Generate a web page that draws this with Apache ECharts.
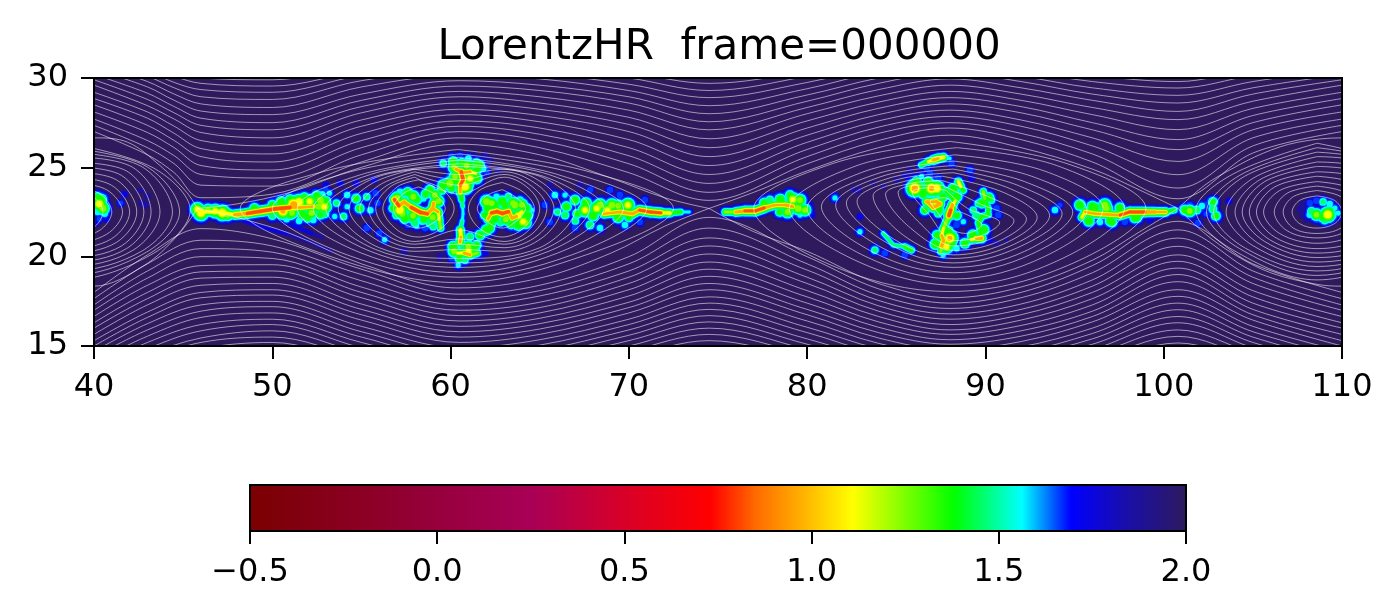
<!DOCTYPE html>
<html>
<head>
<meta charset="UTF-8">
<title>LorentzHR</title>
<style>
  html, body { margin: 0; background: #fff; }
  #main { width: 1400px; height: 615px; }
</style>
<script src="https://cdn.jsdelivr.net/npm/echarts@6/dist/echarts.min.js"></script>
</head>
<body>
<div id="main"></div>
<script>
var title = 'LorentzHR  frame=000000';

// colour bar
var cmapValues = [-0.5, 0, 0.25, 0.5, 0.73, 0.85, 1.11, 1.38, 1.56, 1.69, 1.84, 2];
var cmapColors = ['#7a0000', '#96003c', '#a80056', '#d80028', '#ff0000', '#ff6a00', '#ffff00', '#00ff00', '#00ffff', '#0000ff', '#1a0ea8', '#2e1a5c'];
var fieldLevels = [1.86, 1.74, 1.66, 1.56, 1.46, 1.36, 1.24, 1.11, 0.96, 0.82];

// hot spots of the field, [x, y, value]
var edgeBlob = [[40.2,23.3,1.3],[40.4,23.2,1.25],[40.3,22.95,1.05],[40.5,22.7,1.15],[40.2,22.5,1.5],[40.6,22.4,1.5],[40.3,22.1,1.65],[40.7,22.1,1.7],[40.1,21.9,1.7],[41.7,23.5,1.7],[41.5,23,1.65],[42.7,23,1.75],[42.9,22.9,1.75],[42.6,23.7,1.8],[43,23.4,1.8]];
var leftStreak = [[45.8,22.65,1.1],[46,22.45,1],[46.4,22.6,1.2],[46.8,22.55,1.1],[47.2,22.45,1],[47.5,22.35,1.2],[50.6,22.55,0.95],[51.2,22.9,0.85],[51.1,22.45,1.2],[51.7,22.35,1.25],[52.2,22.45,1.2],[52.1,23.1,1.1],[51.5,23.05,1],[52.6,22.8,1.2],[52.9,22.8,1.1],[52.7,23.15,1.15],[53,23.1,1.3],[52.7,22.35,1.35],[52.3,22.05,1.5],[51.5,22,1.5],[50.8,22.1,1.5],[52.95,22.4,1.4],[53,22.8,1.2],[50,22.9,1.35],[49,22.7,1.3],[50.5,23.05,1.25],[51,23.2,1.3],[51.8,23.3,1.3],[52.5,23.4,1.3],[51,22.35,1.3],[50,22.3,1.4],[52,22.2,1.3]];
var upperWisp = [[51.8,23.4,1.7],[52.4,23.6,1.6],[53,23.8,1.65],[52.8,23.5,1.5]];
var leftFlecks = [[53.2,23.55,1.55],[53.6,23,1.45],[54.2,23.45,1.5],[54.2,22.8,1.55],[54.7,23.25,1.35],[54.9,22.7,1.35],[55.3,23.35,1.45],[55.5,22.6,1.5],[54,22.25,1.45],[53.5,22.25,1.55],[54.7,24.1,1.7],[55.7,24.3,1.7],[55.8,23.55,1.6],[53,24,1.7],[53.8,24.1,1.7],[55.9,23,1.6],[55.3,21.6,1.6],[56,21.3,1.6],[56.3,20.95,1.55],[57.4,20.3,1.75]];
var leftLobe = [[58.84,23.73,1.3],[59.12,23.45,1.2],[57.91,23.36,1.2],[58.47,23.26,1.5],[57.44,23.55,1.4],[57.16,23.64,1.5],[56.79,22.71,1.35],[56.97,22.33,1.4],[57.44,22.14,1.3],[57.82,22.14,1.35],[58.38,21.96,1.5],[58.84,21.87,1.4],[59.03,21.68,1.45],[58.1,21.72,1.55],[58.56,21.59,1.6],[57.63,21.77,1.6],[59.59,24.01,1.25],[59.96,24.1,1.15],[59.5,23.73,1.35],[60.06,23.82,1.35],[57.16,22.61,1],[57,23.3,1.2],[57.6,23.6,1.3],[58.1,23.2,1.3],[58.6,23.5,1.35],[57.3,22.4,1.2],[57.9,22.3,1.2],[58.5,22.1,1.3],[59,22.2,1.2],[58,21.9,1.4],[59.3,23.1,1.2]];
var topSheet = [[60.15,25.32,1.3],[60.62,25.22,1.3],[61.09,25.13,1.3],[61.46,25.22,1.35],[61.83,24.94,1.5],[62.02,24.76,1.6],[61.65,25.13,1.35],[60.25,24.48,1.2],[61.09,24.38,1.1],[61.46,24.38,1.25],[60.81,23.92,1],[59.59,25.22,1.45],[62.68,24.85,1.75],[61.93,25.69,1.75],[62.21,25.41,1.75],[61.27,25.69,1.8],[60.06,25.6,1.6],[60.53,25.63,1.6],[61,25.5,1.5],[60.2,25,1.2],[60.9,25.1,1.2],[61.5,24.9,1.3],[60.3,24.2,1.3],[61,24.1,1.25]];
var bottomSheet = [[60.15,20.56,1.25],[61,20.56,1.2],[61.46,20.65,1.35],[60.06,20.28,1.45],[60.43,19.53,1.55],[60.06,19.91,1.6],[60.81,19.81,1.45],[61.93,20.19,1.7],[59.4,20,1.75],[61.65,19.9,1.75],[60.71,20.47,1.4],[61.09,21.12,1.4],[61.65,21.21,1.3],[62.02,21.49,1.25],[62.2,21.6,1.3],[60.2,20.3,1.2],[61,20.3,1.1],[61.3,20.5,1.25],[60.5,19.9,1.35]];
var rightLobe = [[62.02,23.08,1.15],[62.11,22.71,1.25],[64.07,21.96,1.1],[63.8,21.77,1.25],[62.49,22.89,1.25],[63.05,22.89,1.3],[63.61,22.89,1.15],[64.26,22.71,1.3],[64.54,22.61,1.55],[62.58,23.36,1.5],[63.24,23.36,1.45],[63.89,23.17,1.45],[62.3,21.87,1.35],[61.93,22.33,1.35],[62.3,23,1.2],[62.9,23.1,1.25],[63.5,23,1.2],[64,22.9,1.2],[62.5,22.1,1.3],[63.1,22.1,1.2],[63.8,22.3,1.1],[64.3,22.3,1.25],[62.8,21.9,1.45],[63.4,21.8,1.35],[64.2,21.9,1.2]];
var rightStreak = [[65.29,22.89,1.6],[65.85,23.45,1.5],[66.42,22.33,1.4],[66.98,23.17,1.3],[67.54,22.61,1.1],[67.82,21.77,1.4],[68.38,22.89,1.15],[69.05,22.89,1.15],[69.95,22.89,1.1],[66.42,23.45,1.55],[67.82,23.73,1.6],[68.94,23.73,1.6],[65.57,21.94,1.6],[66.98,21.61,1.6],[68.38,21.61,1.5],[69.78,21.77,1.5],[70.62,21.94,1.6],[65.57,24.01,1.75],[67.26,24.01,1.75],[69.5,23.45,1.6],[70.9,23.17,1.6],[66.5,22.8,1.3],[67.1,22.4,1.35],[67.6,23,1.25],[68,22.3,1.25],[68.2,22.7,1.1],[68.8,22.6,1.1],[69.4,22.2,1.25],[69.4,22.85,1.2],[70,22.2,1.35],[66,22.5,1.45],[67,22,1.45]];
var midStreak = [[79.6,23.17,1.2],[79.04,23.45,1.35],[79.88,22.61,1.2],[78.47,22.5,1.35],[77.91,23.17,1.4],[80.16,22.89,1.7],[80.27,22.33,1.7],[79.6,22.33,1.55],[81.56,23.29,1.55],[82.6,23.73,1.8],[77.6,23,1.3],[78.5,23.2,1.25],[79.2,23.2,1.1],[78.9,22.5,1.2],[79.5,22.7,1.15]];
var islandTop = [[88.1,25.22,1.6],[86.7,24.94,1.6],[85.76,24.85,1.75],[85.02,24.29,1.8],[85.76,24.1,1.75],[86.89,24.66,1.6],[87.35,24.38,1.6],[86.42,24.48,1.55],[86.04,23.82,0.9],[86.14,24.2,1.3],[86.42,24.01,1.4],[86.79,24.2,1.3],[86.98,23.82,0.95],[87.26,23.82,1],[86.61,23.64,1.3],[89.13,24.85,1.6],[89.22,24.38,1.7]];
var islandCore = [[87.63,23.36,1.3],[88.38,23.36,1.25],[87.35,22.43,1.4],[88,21.03,0.95],[87.82,20.56,1.1],[87.63,20.09,1.55],[88.1,20.75,1.3],[86.5,23.5,1.3],[87.2,23.6,1.35],[88.2,23.8,1.25],[87.4,22.6,1.3],[86.6,22.6,1.35],[88.4,22.3,1.35],[87.3,21.2,1.3],[87.9,21.4,1.25],[87.2,20.7,1.25]];
var islandRight = [[90.34,23.17,1.45],[89.6,22.98,1.45],[89.32,22.61,1.45],[88.85,20.75,1.3],[90.62,22.71,1.6],[90.72,22.33,1.6],[88.76,21.96,1.55],[88.38,21.77,1.6],[90.25,20.93,1.7],[90.62,20.75,1.8],[91.19,20.93,1.85],[89.8,23,1.3],[90.2,23.3,1.3],[89.5,22.3,1.4],[89.9,21.5,1.25],[89.3,21.2,1.25]];
var islandFlecks = [[83.8,20.37,1.45],[85.48,20.09,1.6],[84.36,20.19,1.6],[82.96,22.24,1.7],[82.87,23.73,1.75],[82.96,21.4,1.55],[83.71,24.1,1.85],[84.27,23.92,1.85],[88.38,20.47,1.5]];
var eastStreak = [[93.9,22.61,1.5],[94.18,22.89,1.65],[95.3,22.89,1.25],[96.14,22.73,1.25],[96.7,22.89,1.15],[97.1,21.94,1.3],[97.54,22.73,1.3],[98.38,22.17,1.3],[101.19,22.61,1.3],[96.42,21.94,1.5],[97.82,21.94,1.6],[99.23,22.05,1.7],[101.86,22.61,1.4],[102.31,22.89,1.6],[101.47,22.89,1.6],[96,22.8,1.25],[96.8,22.7,1.2],[97,22,1.3],[95.8,22,1.25],[98.5,22.2,1.3]];
var eastFlecks = [[102.14,22.83,1.5],[101.92,21.89,1.6],[102.76,23.06,1.35],[102.76,22.67,1.4],[102.93,22.28,1.35],[103.66,23.12,1.7],[102.37,22.39,1.65],[101.46,22.56,1.2]];
var farBlob = [[107.63,22.63,1.8],[107.82,22.91,1.75],[108.19,23,1.6],[108.56,23.13,1.6],[108.94,23.06,1.45],[109.31,22.95,1.5],[109.6,22.72,1.55],[109.78,22.44,1.55],[109.54,22.26,1.55],[108.29,22.54,1.4],[108.57,22.35,1.2],[108.94,22.2,1.3],[109.2,22.35,1],[109.31,22.54,1.3],[108.19,22.35,1.5],[107.82,22.35,1.75],[108,22.07,1.8],[108.57,22.07,1.6],[109.03,22.02,1.45],[109.88,22.16,1.7],[109.97,22.63,1.7]];
var field = [].concat(edgeBlob, leftStreak, upperWisp, leftFlecks, leftLobe, topSheet, bottomSheet, rightLobe, rightStreak, midStreak, islandTop, islandCore, islandRight, islandFlecks, eastStreak, eastFlecks, farBlob);

// ridges of the field, runs of [x, y, value]
var ridges = [
  [[46,22.5,1.05],[47,22.5,1.05],[47.9,22.35,0.85],[48.6,22.42,0.75],[49.4,22.55,0.72],[50.2,22.68,0.72],[51,22.75,0.72],[51.6,22.75,0.95],[52.3,22.8,0.95],[52.9,22.9,1.15]],
  [[48.4,22,1.72],[49.6,21.6,1.7],[50.8,21.3,1.72],[51.9,20.9,1.75],[53.3,20.3,1.8]],
  [[51,21.8,1.65],[52.2,21.3,1.72],[52.8,21.1,1.78]],
  [[56.85,23.2,0.75],[57.1,22.85,0.72],[57.4,23.05,0.85],[57.8,22.75,0.72],[58.3,22.48,0.72],[58.7,22.4,0.75],[59,22.7,0.85],[59.05,23,0.9]],
  [[59,22.7,0.9],[59.3,22.5,0.95],[59.37,22.05,1.1],[59.44,21.6,1.2]],
  [[60.3,24.9,0.9],[60.6,24.75,0.72],[60.7,24.3,0.72],[60.55,24,0.78],[60.55,23.6,0.95],[60.62,23.2,1.25],[60.68,22.8,1.45],[60.7,22.4,1.55],[60.65,22,1.45],[60.55,21.5,1],[60.58,21.1,0.8],[60.53,20.8,0.95]],
  [[60.7,24.7,0.72],[61.1,24.75,0.9],[61.4,24.65,1.1]],
  [[60.4,20.2,1.1],[60.75,20.2,0.95],[61.1,20.1,0.85],[61.5,20.2,1.2]],
  [[62.1,22.1,0.95],[62.3,22.45,0.72],[62.6,22.52,0.72],[62.9,22.42,0.72],[63.25,22.52,0.75],[63.45,22.15,0.9],[63.7,22.25,0.78],[64,22.5,1]],
  [[68.6,22.4,0.95],[69.5,22.5,0.85],[70.2,22.4,0.9],[70.6,22.6,0.8],[71.2,22.5,0.75],[71.8,22.45,0.8],[72.3,22.45,1],[72.9,22.5,1.3],[73.4,22.5,1.55]],
  [[75.4,22.5,1.2],[76,22.5,0.9],[76.5,22.56,0.8],[77.1,22.56,0.8],[77.6,22.73,0.72],[78.2,22.89,0.95],[78.8,22.89,0.9],[79.2,22.8,0.75]],
  [[85.4,24.55,1.72],[86.1,24.3,1.6],[87,24.2,1.45],[87.8,23.7,1.3],[88,23.45,1.25],[88.3,23.1,1.1]],
  [[86.4,25.13,1.35],[86.8,25.32,1.1],[87.07,25.41,0.9],[87.35,25.5,0.75],[87.65,25.56,1],[88,25.5,1.5]],
  [[86.7,23.08,0.95],[87.26,23.08,0.72],[87.45,22.95,0.85],[87.07,22.75,0.85],[86.7,23.08,0.95]],
  [[88.3,23.1,1.1],[88.15,22.9,0.85],[88.05,22.6,0.72],[87.95,22.3,0.72],[87.8,21.95,1.15],[87.65,21.6,1.1],[87.55,21.2,0.95],[87.65,20.9,0.75],[87.55,20.6,0.85],[87.5,20.3,1.2]],
  [[88.48,24.2,1.1],[88.62,23.92,0.85],[88.76,23.7,1.25]],
  [[89.2,20.95,1.1],[89.5,21.03,0.85],[89.78,21.03,0.72],[89.7,21.5,1.3],[89.6,21.9,1.3],[89.8,22.25,1.3],[90.16,22.35,1.2],[90.16,22.7,1.35],[89.97,23.27,1.15],[89.88,23.64,1.2]],
  [[84.27,21.3,1.4],[84.83,20.65,1.45],[85.48,20.56,1.3],[85.86,20.37,1.25]],
  [[95.4,22.2,1.1],[95.6,22.5,0.95],[96.15,22.4,0.9],[97,22.35,0.95],[97.55,22.33,0.8],[98.1,22.5,0.8],[98.95,22.5,0.75],[99.5,22.5,0.85],[100.1,22.5,0.95],[100.6,22.6,1.35]]
];

// open field lines: the y of each line at every x of the knots
var upperKnots = [40, 43, 44.5, 46, 50, 55, 60.5, 65, 70, 74.5, 80, 84, 88, 92, 96, 100.8, 105, 110];
var upperColumns = [
  [27,27.35,27.7,28.1,28.5,28.85,29.2,29.6,29.9,30.2,30.5,30.8,31.1,31.4,31.7,32],
  [25.7,26.1,26.5,26.95,27.35,27.75,28.1,28.45,28.8,29.15,29.5,29.8,30.1,30.4,30.7,31],
  [24.7,25.2,25.65,26.1,26.5,26.9,27.3,27.7,28.05,28.4,28.75,29.1,29.45,29.75,30.1,30.4],
  [23.3,24,24.6,25.1,25.6,26.05,26.5,26.95,27.35,27.75,28.15,28.55,28.95,29.35,29.7,30],
  [23.5,23.95,24.4,24.85,25.3,25.75,26.2,26.65,27.1,27.5,27.95,28.35,28.8,29.2,29.55,29.9],
  [25.3,25.7,26.1,26.5,26.9,27.3,27.65,28.05,28.4,28.75,29.1,29.5,29.85,30.15,30.4,30.7],
  [26.65,27,27.3,27.6,27.95,28.25,28.6,28.95,29.25,29.55,29.85,30.15,30.45,30.75,31,31.3],
  [26.1,26.5,26.85,27.2,27.55,27.9,28.25,28.6,28.95,29.3,29.6,29.95,30.25,30.55,30.85,31.1],
  [24.7,25.2,25.65,26.1,26.55,27,27.4,27.8,28.2,28.6,28.95,29.3,29.65,30,30.3,30.6],
  [23.15,23.6,24.1,24.6,25.1,25.6,26.1,26.6,27.1,27.55,28,28.45,28.9,29.3,29.7,30.05],
  [25.2,25.6,26,26.4,26.8,27.2,27.6,28,28.35,28.7,29.05,29.4,29.75,30.1,30.4,30.7],
  [26.5,26.9,27.25,27.6,27.95,28.3,28.65,29,29.35,29.7,30,30.35,30.65,31,31.3,31.6],
  [27.2,27.5,27.85,28.2,28.55,28.9,29.25,29.6,29.95,30.3,30.6,30.9,31.2,31.5,31.8,32.1],
  [26.55,26.9,27.3,27.65,28.05,28.4,28.75,29.1,29.45,29.8,30.1,30.4,30.7,31,31.3,31.6],
  [25.3,25.75,26.2,26.65,27.1,27.5,27.95,28.35,28.75,29.1,29.45,29.8,30.15,30.45,30.75,31.05],
  [23.24,23.84,24.59,25.33,25.99,26.55,27.11,27.67,28.13,28.6,29.03,29.44,29.8,30.2,30.5,30.8],
  [25.8,26.2,26.65,27.1,27.5,27.9,28.3,28.7,29.1,29.45,29.8,30.15,30.5,30.8,31.1,31.4],
  [27,27.35,27.7,28.1,28.5,28.85,29.2,29.6,29.9,30.2,30.5,30.8,31.1,31.4,31.7,32]
];
var lowerKnots = [40, 43, 46, 50, 55, 60.5, 65, 70, 74.5, 80, 84, 88, 92, 96, 100.8, 105, 110];
var lowerColumns = [
  [18,17.65,17.3,17,16.65,16.3,16,15.65,15.3,15,14.7,14.4,14.1,13.8,13.5,13.2,12.9,12.6,12.3],
  [20.1,19.6,19.2,18.8,18.4,18,17.65,17.3,16.9,16.6,16.25,15.9,15.55,15.2,14.85,14.5,14.2,13.9,13.6],
  [21.57,20.92,20.45,20,19.5,19.15,18.8,18.4,18,17.7,17.3,16.95,16.6,16.2,15.85,15.45,15.2,14.85,14.5],
  [21,20.6,20.25,19.9,19.55,19.2,18.85,18.5,18.15,17.85,17.5,17.2,16.85,16.5,16.2,15.85,15.5,15.2,14.85],
  [19.3,19,18.65,18.3,18,17.7,17.35,17.05,16.75,16.45,16.1,15.8,15.5,15.2,14.9,14.6,14.3,14,13.7],
  [17.9,17.6,17.3,17,16.7,16.4,16.1,15.8,15.5,15.2,14.9,14.6,14.3,14,13.7,13.4,13.1,12.8,12.5],
  [18.4,18.1,17.8,17.45,17.15,16.85,16.55,16.25,15.95,15.65,15.35,15.05,14.75,14.45,14.15,13.85,13.55,13.25,12.95],
  [20,19.6,19.2,18.85,18.5,18.15,17.8,17.45,17.15,16.85,16.5,16.2,15.9,15.6,15.3,15,14.7,14.4,14.1],
  [22.2,21.6,21.05,20.6,20.15,19.7,19.3,18.9,18.5,18.15,17.75,17.4,17.05,16.7,16.35,16,15.65,15.3,14.95],
  [20,19.6,19.25,18.85,18.5,18.1,17.75,17.4,17.05,16.75,16.4,16.05,15.75,15.4,15.1,14.8,14.5,14.2,13.9],
  [18.2,17.85,17.55,17.25,16.95,16.65,16.35,16.05,15.75,15.45,15.15,14.85,14.55,14.25,13.95,13.7,13.4,13.1,12.8],
  [17.4,17.1,16.8,16.5,16.2,15.9,15.65,15.35,15.1,14.8,14.5,14.25,14,13.7,13.4,13.15,12.9,12.6,12.3],
  [18,17.7,17.35,17.05,16.75,16.45,16.15,15.85,15.55,15.25,14.95,14.65,14.4,14.1,13.8,13.5,13.2,12.9,12.6],
  [19.5,19.1,18.7,18.35,18,17.65,17.3,16.95,16.65,16.35,16,15.7,15.4,15.1,14.8,14.5,14.2,13.9,13.6],
  [21.98,21.5,21.04,20.58,20.1,19.74,19.36,19,18.6,18.15,17.78,17.4,17.03,16.65,16.3,15.9,15.54,15.17,14.8],
  [19.6,19.2,18.85,18.5,18.1,17.75,17.4,17.05,16.75,16.45,16.1,15.8,15.5,15.2,14.9,14.6,14.3,14,13.7],
  [18,17.65,17.3,17,16.65,16.3,16,15.65,15.3,15,14.7,14.4,14.1,13.8,13.5,13.2,12.9,12.6,12.3]
];

// separatrices, x,y,x,y...
var separatrixLines = [
  [45.8,22.7, 48,22.95, 51,23.6, 55,25, 60.4,26.3, 65,25.7, 69,24.4, 72,23.3, 74.5,22.7],
  [45.8,22.7, 48,22.2, 51,21.3, 55,19.6, 60.4,18.25, 65,18.8, 69,20.2, 72,21.7, 74.5,22.7],
  [74.5,22.7, 77,23.6, 80,24.8, 84,26.1, 88,26.8, 92,26.1, 96,24.9, 98.5,23.8, 100.8,22.7],
  [74.5,22.7, 77,21.4, 80,20.3, 84,18.5, 88,17.7, 92,18.3, 96,19.8, 98.5,21.3, 100.8,22.7]
];
// crosses the edge, drawn again 70 to the left
var wrapSeparatrix = [
  [100.8,22.7, 102.3,24, 103.7,24.85, 105.6,25.8, 107.5,26.4, 110,26.65, 111.9,26.4, 113.7,25.1, 115.2,23.6, 115.8,22.7],
  [100.8,22.7, 102.3,21.3, 104,20.1, 106,19.1, 108.6,18.45, 110,18.35, 112.8,19.5, 114.7,21.2, 115.8,22.7]
];
var wrapLoops = [
  [107.2,22.5, 107.62,23.15, 108.6,23.4, 109.58,23.15, 110,22.5, 109.58,21.85, 108.6,21.6, 107.62,21.85],
  [106.7,22.5, 107.27,23.36, 108.6,23.7, 109.93,23.36, 110.5,22.5, 109.93,21.6, 108.6,21.3, 107.27,21.6],
  [106.2,22.5, 106.92,23.55, 108.6,23.95, 110.28,23.55, 111,22.5, 110.28,21.45, 108.6,21.05, 106.92,21.45],
  [105.6,22.5, 106.5,23.7, 108.6,24.2, 110.7,23.75, 111.6,22.5, 110.7,21.25, 108.6,20.75, 106.5,21.3],
  [105.2,22.5, 106.22,23.9, 108.6,24.5, 110.98,24, 112,22.5, 110.98,21, 108.6,20.45, 106.22,21.1],
  [104.8,22.5, 105.94,24.05, 108.6,24.75, 111.26,24.3, 112.4,22.5, 111.26,20.8, 108.6,20.2, 105.94,20.95],
  [104.4,22.5, 105.66,24.2, 108.6,25.05, 111.54,24.55, 112.8,22.5, 111.54,20.6, 108.6,19.95, 105.66,20.85],
  [104,22.5, 105.38,24.3, 108.6,25.3, 111.82,24.8, 113.2,22.5, 111.82,20.45, 108.6,19.7, 105.38,20.7],
  [103.5,22.5, 105.03,24.4, 108.6,25.6, 112.17,25, 113.7,22.5, 112.17,20.35, 108.6,19.45, 105.03,20.6],
  [102.8,22.5, 104.54,24.5, 108.6,25.85, 112.66,25.05, 114.4,22.5, 112.66,20.3, 108.6,19.2, 104.54,20.5],
  [102.4,22.5, 104.26,24.55, 108.6,26.1, 112.94,25.05, 114.8,22.5, 112.94,20.25, 108.6,18.95, 104.26,20.45],
  [101.8,22.6, 103.84,24.6, 108.6,26.35, 113.36,24.95, 115.4,22.6, 113.36,20.2, 108.6,18.7, 103.84,20.4]
];
// closed lines of the two big islands
var loopsOne = [
  [48.2,22.7, 53,24.8, 60.4,26, 67.6,24.8, 72.5,22.7, 67.6,20.1, 60.4,18.55, 53,20.1],
  [50,22.7, 54.2,24.7, 60.5,25.75, 66.8,24.7, 71,22.7, 66.8,20.1, 60.5,18.85, 54.2,20.1],
  [51.4,22.7, 55,24.6, 60.5,25.55, 66,24.6, 69.7,22.7, 66,20.2, 60.5,19.1, 55,20.2],
  [52.3,22.7, 55.5,24.6, 60.5,25.4, 65.5,24.6, 68.6,22.7, 65.5,20.3, 60.5,19.4, 55.5,20.3],
  [53,22.7, 55.8,24.5, 60.5,25.2, 65.2,24.5, 67.8,22.7, 65.2,20.4, 60.5,19.65, 55.8,20.4],
  [53.7,22.7, 56,24.5, 60.5,25.05, 65,24.5, 67,22.7, 65,20.5, 60.5,19.9, 56,20.5],
  [54.3,22.7, 55.6,24.1, 58,24.9, 60.5,24.6, 63,24.9, 65.2,24.1, 66.2,22.7, 65.2,21.1, 63,20.3, 60.5,20.4, 58,20.3, 55.6,21.1],
  [54.9,22.7, 56,24, 58,24.75, 60.5,24.3, 63,24.75, 64.9,24, 65.8,22.7, 64.9,21.2, 63,20.5, 60.5,20.7, 58,20.5, 56,21.2],
  [55.4,22.7, 56.3,23.9, 58,24.6, 60.5,24, 63,24.6, 64.6,23.9, 65.4,22.7, 64.6,21.3, 63,20.7, 60.5,21, 58,20.7, 56.3,21.3],
  [55.8,22.7, 56.6,23.9, 58,24.45, 60.5,23.5, 63,24.45, 64.4,23.8, 65,22.7, 64.3,21.4, 63,20.85, 60.5,21.5, 58,20.85, 56.6,21.4],
  [56.2,22.7, 57,23.9, 58.2,24.3, 59.5,23.8, 60.2,22.7, 59.5,21.6, 58.2,21.1, 57,21.5],
  [56.8,22.7, 57.3,23.5, 58.2,23.9, 59.1,23.5, 59.7,22.7, 59.1,21.95, 58.2,21.6, 57.3,21.9],
  [61,22.7, 61.6,23.7, 62.9,24.15, 64.1,23.6, 64.7,22.7, 64.1,21.6, 62.9,21.1, 61.6,21.6],
  [61.5,22.7, 62,23.4, 62.9,23.75, 63.7,23.3, 64.2,22.7, 63.7,22, 62.9,21.6, 62,22]
];
var loopsTwo = [
  [77,22.7, 81.4,25.2, 88,26.45, 94.6,25.2, 99,22.7, 94.6,19.5, 88,18.05, 81.4,19.5],
  [79,22.7, 82.8,25.1, 88.4,26.1, 94,25.1, 97.8,22.7, 94,19.75, 88.4,18.4, 82.8,19.75],
  [80,22.7, 83.3,24.8, 88.3,25.7, 93.3,24.8, 96.6,22.7, 93.3,20, 88.3,18.75, 83.3,20],
  [80.8,22.8, 83.8,24.6, 88.2,25.35, 92.6,24.5, 95.7,22.6, 92.6,20.15, 88.2,19.1, 83.8,20.2],
  [81.6,22.9, 84.2,24.5, 88.2,25.1, 92.2,24.2, 94.9,22.5, 92.2,20.3, 88.2,19.4, 84.2,20.5],
  [82.2,23, 84.6,24.4, 88.2,24.9, 91.8,24, 94.3,22.4, 91.8,20.5, 88.2,19.65, 84.6,20.7],
  [82.8,23.1, 85,24.3, 88.2,24.7, 91.4,23.8, 93.6,22.3, 91.4,20.6, 88.2,19.9, 85,20.9],
  [83.7,23.4, 85.4,24.2, 87.6,24.5, 91,23.6, 92.9,22.2, 91,20.7, 88.2,20.1, 85.4,21.2],
  [84.4,23.5, 85.8,24.1, 87.6,24.25, 90.3,23.3, 92.3,22.1, 90.6,20.8, 88.2,20.35, 85.8,21.6],
  [85.1,23.6, 86.2,24, 87.6,24, 89.6,23, 91.6,22, 90.2,20.95, 88.2,20.6, 86.2,22],
  [85.9,23.6, 86.8,23.85, 87.8,23.7, 89,22.7, 90.8,21.9, 89.6,21.1, 88.2,20.9, 86.8,22.4],
  [86.9,23.1, 87.7,23.3, 88.6,22.5, 89.8,21.8, 88.9,21.3, 88,21.6, 87.3,22.5]
];

function colorAt(v) {
  var i = 1;
  while (i < cmapValues.length - 1 && cmapValues[i] < v) i++;
  var t = (v - cmapValues[i - 1]) / (cmapValues[i] - cmapValues[i - 1]);
  return echarts.color.lerp(t, [cmapColors[i - 1], cmapColors[i]]);
}

// the cyan and blue bands are wide in the picture, so stretch the reach above green
function reach(v) {
  return v < 1.36 ? v : 1.36 + (v - 1.36) * 2.5;
}
// spots need wider yellow and green to run together
function spotReach(v) {
  return v < 1.36 ? 1.36 + (v - 1.36) * 2 : reach(v);
}

function toPairs(flat, shift) {
  var out = [];
  for (var i = 0; i < flat.length; i += 2) out.push([flat[i] + shift, flat[i + 1]]);
  return out;
}

// closed line, starts at its top where the seam does not show
function toLoop(flat, shift) {
  var p = toPairs(flat, shift);
  var out = p.slice(2).concat(p.slice(0, 2));
  out.push(out[0]);
  return out;
}

function lineSeries(points) {
  return {
    type: 'line', data: points, smooth: 0.35, showSymbol: false, silent: true, clip: true, z: 3,
    lineStyle: { color: 'rgba(255,255,255,0.55)', width: 1 }
  };
}

// runs of points become segments: x1, y1, x2, y2, value
var ridgeSegments = [];
ridges.forEach(function (run) {
  for (var i = 1; i < run.length; i++) {
    ridgeSegments.push([run[i - 1][0], run[i - 1][1], run[i][0], run[i][1], Math.max(run[i - 1][2], run[i][2])]);
  }
});

var series = [];

// one layer per colour level, blue below and red on top
fieldLevels.forEach(function (level) {
  var fill = colorAt(level);
  series.push({
    type: 'custom', data: field, clip: true, silent: true, z: 2,
    encode: { x: 0, y: 1 },
    renderItem: function (params, api) {
      if (api.value(2) > level) return null;
      var r = (spotReach(level) - spotReach(api.value(2))) * 5 + 2.5;
      var p = api.coord([api.value(0), api.value(1)]);
      return { type: 'circle', shape: { cx: p[0], cy: p[1], r: r }, style: { fill: fill } };
    }
  });
  series.push({
    type: 'custom', data: ridgeSegments, clip: true, silent: true, z: 2,
    encode: { x: [0, 2], y: [1, 3] },
    renderItem: function (params, api) {
      if (api.value(4) > level) return null;
      var a = api.coord([api.value(0), api.value(1)]);
      var b = api.coord([api.value(2), api.value(3)]);
      return { type: 'line', shape: { x1: a[0], y1: a[1], x2: b[0], y2: b[1] },
        style: { stroke: fill, lineWidth: 2 * ((reach(level) - reach(api.value(4))) * 4 + 1.3), lineCap: 'round', fill: null } };
    }
  });
});

upperColumns[0].forEach(function (v, n) {
  series.push(lineSeries(upperKnots.map(function (x, k) { return [x, upperColumns[k][n]]; })));
});
lowerColumns[0].forEach(function (v, n) {
  series.push(lineSeries(lowerKnots.map(function (x, k) { return [x, lowerColumns[k][n]]; })));
});
separatrixLines.forEach(function (l) { series.push(lineSeries(toPairs(l, 0))); });
wrapSeparatrix.forEach(function (l) {
  series.push(lineSeries(toPairs(l, 0)));
  series.push(lineSeries(toPairs(l, -70)));
});
wrapLoops.forEach(function (l) {
  series.push(lineSeries(toLoop(l, 0)));
  series.push(lineSeries(toLoop(l, -70)));
});
loopsOne.concat(loopsTwo).forEach(function (l) { series.push(lineSeries(toLoop(l, 0))); });

// black frame round the field
series.push({
  type: 'custom', xAxisIndex: 0, yAxisIndex: 0, data: [[40, 15, 110, 30]], silent: true, z: 5,
  encode: { x: 0, y: 1 },
  renderItem: function (params, api) {
    var a = api.coord([40, 30]), b = api.coord([110, 15]);
    return { type: 'rect', shape: { x: a[0], y: a[1], width: b[0] - a[0], height: b[1] - a[1] },
      style: { fill: 'none', stroke: '#000', lineWidth: 2 } };
  }
});

// colour bar
series.push({
  type: 'custom', xAxisIndex: 1, yAxisIndex: 1, data: [[-0.5, 0, 2, 1]], silent: true, z: 5,
  encode: { x: 0, y: 1 },
  renderItem: function (params, api) {
    var a = api.coord([-0.5, 1]), b = api.coord([2, 0]);
    var stops = cmapValues.map(function (v, i) { return { offset: (v + 0.5) / 2.5, color: cmapColors[i] }; });
    return { type: 'rect', shape: { x: a[0], y: a[1], width: b[0] - a[0], height: b[1] - a[1] },
      style: { fill: new echarts.graphic.LinearGradient(0, 0, 1, 0, stops), stroke: '#000', lineWidth: 2 } };
  }
});

var fontName = '"DejaVu Sans"';
var tickStyle = { show: true, length: 13, lineStyle: { color: '#000', width: 2 } };
var labelStyle = { color: '#000', fontFamily: fontName, fontSize: 32, margin: 26 };
var chart = echarts.init(document.getElementById('main'));
chart.setOption({
  animation: false,
  backgroundColor: '#fff',
  title: { text: title, left: 714, top: 22, textAlign: 'center',
    textStyle: { color: '#000', fontFamily: fontName, fontSize: 42, fontWeight: 'normal' } },
  grid: [
    { left: 94, width: 1248, top: 78, height: 268, show: true, backgroundColor: '#2e1a5c', borderWidth: 0 },
    { left: 250, width: 936, top: 485, height: 46, show: false }
  ],
  xAxis: [
    { type: 'value', gridIndex: 0, min: 40, max: 110, interval: 10, splitLine: { show: false },
      axisLine: { show: false }, axisTick: tickStyle, axisLabel: labelStyle },
    { type: 'value', gridIndex: 1, min: -0.5, max: 2, interval: 0.5, splitLine: { show: false },
      axisLine: { show: false }, axisTick: tickStyle,
      axisLabel: Object.assign({}, labelStyle, { formatter: function (v) { return (v < 0 ? '\u2212' : '') + Math.abs(v).toFixed(1); } }) }
  ],
  yAxis: [
    { type: 'value', gridIndex: 0, min: 15, max: 30, interval: 5, splitLine: { show: false },
      axisLine: { show: false }, axisTick: tickStyle, axisLabel: labelStyle },
    { type: 'value', gridIndex: 1, min: 0, max: 1, show: false }
  ],
  series: series
});
</script>
</body>
</html>
